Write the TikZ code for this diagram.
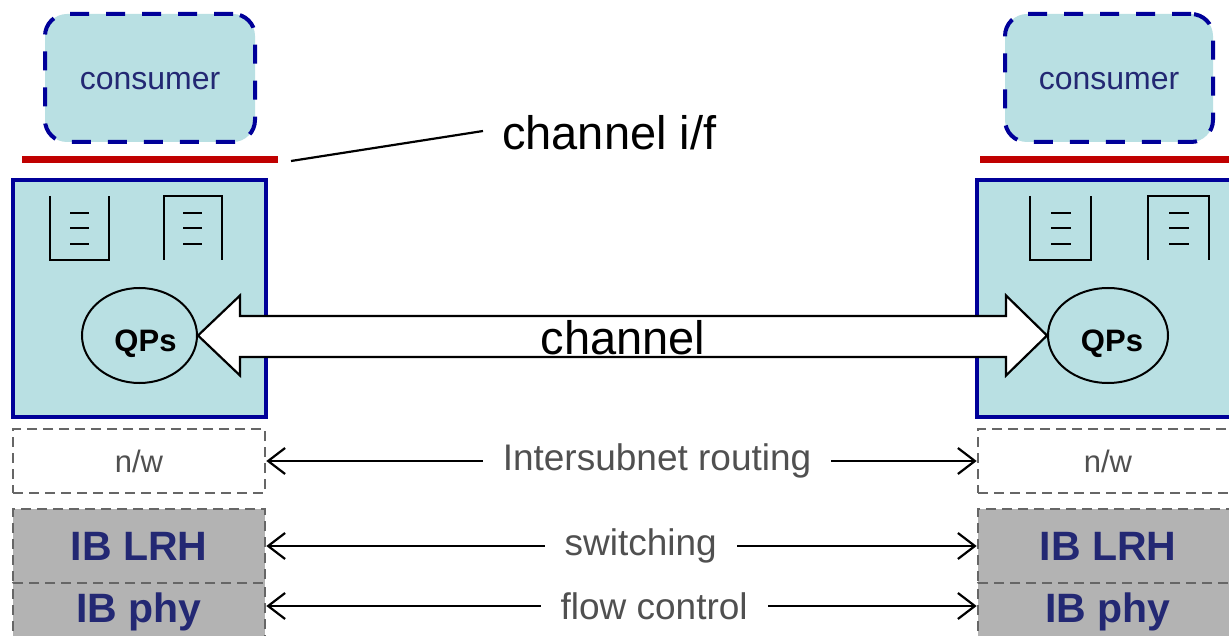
\documentclass[tikz,border=0pt]{standalone}
\usepackage{fontspec}
\setmainfont{Liberation Sans}
\usetikzlibrary{shapes.geometric,arrows.meta,calc}
\definecolor{lblue}{RGB}{185,224,227}
\definecolor{dblue}{RGB}{0,0,153}
\definecolor{navy}{RGB}{35,40,115}
\definecolor{redl}{RGB}{192,0,0}
\definecolor{dgray}{RGB}{102,102,102}
\definecolor{fgray}{RGB}{179,179,179}
\definecolor{tgray}{RGB}{80,80,80}
\tikzset{
  consumerbox/.style={draw=dblue, fill=lblue, line width=4pt, dash pattern=on 19pt off 17pt,
    rounded corners=22pt, minimum height=128pt, inner sep=0pt, text height=24pt, text depth=0pt,
    font=\fontsize{32}{36}\selectfont, text=navy},
  redbar/.style={draw=redl, line width=7pt},
  hostbox/.style={draw=dblue, fill=lblue, line width=4pt, inner sep=0pt},
  qpnode/.style={draw=black, fill=lblue, ellipse, line width=2pt, minimum height=95pt, inner sep=0pt,
    text height=32pt, text depth=0pt, font=\fontsize{31}{36}\selectfont\bfseries},
  qline/.style={draw=black, line width=2.6pt},
  nwbox/.style={draw=dgray, dash pattern=on 10pt off 6pt, line width=2.6pt, minimum height=64pt,
    inner sep=0pt, font=\fontsize{31}{36}\selectfont, text=tgray},
  ibbox/.style={draw=dgray, fill=fgray, dash pattern=on 10pt off 6pt, line width=2.6pt, inner sep=0pt,
    font=\fontsize{41}{48}\selectfont\bfseries, text=navy},
  layerarrow/.style={draw=black, line width=2.2pt, {Straight Barb[length=17pt,width=26pt,line width=2.2pt]}-{Straight Barb[length=17pt,width=26pt,line width=2.2pt]}},
  layerlbl/.style={fill=white, inner xsep=20pt, inner ysep=2pt, text=tgray, font=\fontsize{37}{42}\selectfont},
  bigtext/.style={inner sep=0pt, font=\fontsize{47}{54}\selectfont}
}
\begin{document}
\begin{tikzpicture}[x=1pt,y=-1pt]
\clip (0,0) rectangle (1229,636);
\fill[white] (0,0) rectangle (1229,636);

% consumers
\node[consumerbox, minimum width=210pt] (consL) at (150,78) {consumer};
\node[consumerbox, minimum width=208pt] (consR) at (1109,78) {consumer};

% channel interface bars
\coordinate (rlA) at (22,160); \coordinate (rlB) at (278,160);
\coordinate (rrA) at (980,160); \coordinate (rrB) at (1235,160);
\draw[redbar] (rlA) -- (rlB);
\draw[redbar] (rrA) -- (rrB);

% channel i/f label
\node[bigtext, anchor=west] (cif) at (502,133) {channel i/f};
\coordinate (ptr) at (291,161);
\draw[line width=2.2pt] (ptr) -- (483,131);

% host boxes
\node[hostbox, minimum width=253pt, minimum height=237pt] (boxL) at (139.5,298.5) {};
\node[hostbox, minimum width=270pt, minimum height=237pt] (boxR) at (1112,298.5) {};

% queue icons left
\draw[qline] (50,196) -- (50,260) -- (109,260) -- (109,196);
\draw[qline] (164,260) -- (164,196) -- (222,196) -- (222,260);
\foreach \yy in {213,228,244}{
  \draw[qline] (70,\yy) -- (89,\yy);
  \draw[qline] (183,\yy) -- (202,\yy);
}
% queue icons right
\draw[qline] (1030,196) -- (1030,260) -- (1091,260) -- (1091,196);
\draw[qline] (1148,260) -- (1148,196) -- (1209,196) -- (1209,260);
\foreach \yy in {213,228,244}{
  \draw[qline] (1051,\yy) -- (1071,\yy);
  \draw[qline] (1169,\yy) -- (1189,\yy);
}

% QPs
\node[qpnode, minimum width=115pt] (qpL) at (139.5,335.5) {\hspace*{12pt}QPs};
\node[qpnode, minimum width=120pt] (qpR) at (1108,335.5) {\hspace*{8pt}QPs};

% channel double arrow
\draw[fill=white, line width=2.2pt, line join=miter]
  (qpL.east) -- ($(qpL.east)+(42,-40)$) -- ($(qpL.east)+(42,-19.5)$)
  -- ($(qpR.west)+(-41,-19.5)$) -- ($(qpR.west)+(-41,-40)$) -- (qpR.west)
  -- ($(qpR.west)+(-41,40)$) -- ($(qpR.west)+(-41,21.5)$)
  -- ($(qpL.east)+(42,21.5)$) -- ($(qpL.east)+(42,40)$) -- cycle;
\node[bigtext] (chan) at (623,338) {channel};

% layer boxes
\node[nwbox, minimum width=252pt] (nwL) at (139,461) {n/w};
\node[nwbox, minimum width=260pt] (nwR) at (1108,461) {n/w};
\node[ibbox, minimum width=252pt, minimum height=74pt] (lrhL) at (139,546) {IB LRH};
\node[ibbox, minimum width=260pt, minimum height=74pt] (lrhR) at (1108,546) {IB LRH};
\node[ibbox, minimum width=252pt, minimum height=66pt, text height=30pt, text depth=18pt] (phyL) at (139,616) {IB phy};
\node[ibbox, minimum width=260pt, minimum height=66pt, text height=30pt, text depth=18pt] (phyR) at (1108,616) {IB phy};

% layer arrows
\draw[layerarrow] (nwL.east) -- node[layerlbl, pos=0.55] (lblA) {Intersubnet routing} (nwR.west);
\draw[layerarrow] (lrhL.east) -- node[layerlbl, pos=0.527] (lblB) {switching} (lrhR.west);
\draw[layerarrow] ([yshift=10pt]phyL.east) -- node[layerlbl, pos=0.546] (lblC) {flow control} ([yshift=10pt]phyR.west);
\end{tikzpicture}
\end{document}
